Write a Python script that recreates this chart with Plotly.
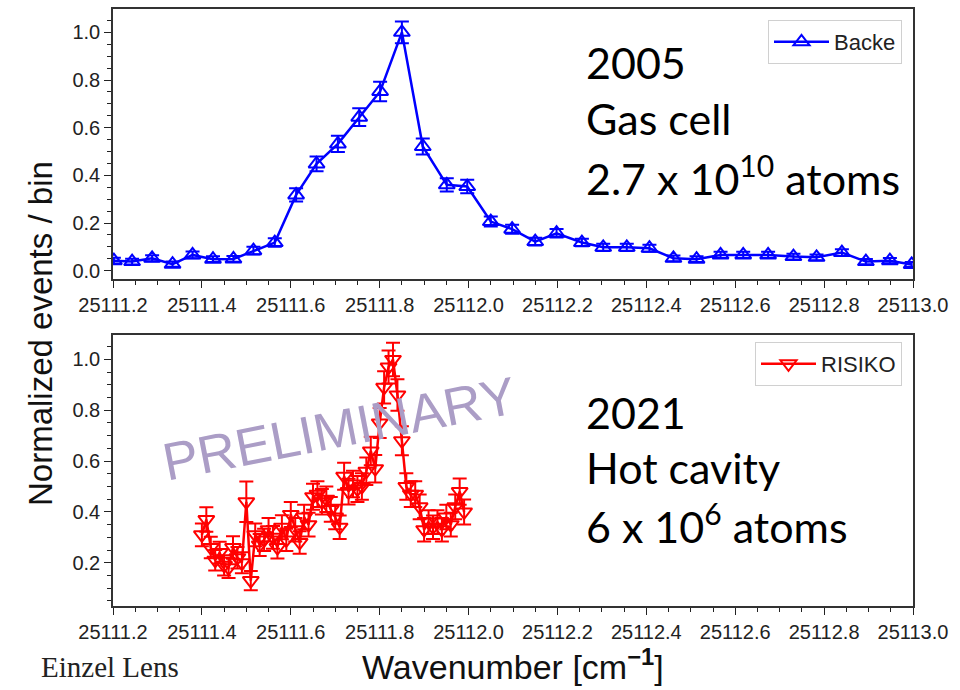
import plotly.graph_objects as go

# ---- 2005 gas cell measurement (Backe) ----
backe_x = [25111.202, 25111.243, 25111.288, 25111.334, 25111.379, 25111.425,
           25111.471, 25111.516, 25111.564, 25111.612, 25111.658, 25111.706,
           25111.754, 25111.801, 25111.850, 25111.897, 25111.951, 25111.997,
           25112.050, 25112.098, 25112.150, 25112.198, 25112.255, 25112.303,
           25112.356, 25112.407, 25112.461, 25112.513, 25112.567, 25112.618,
           25112.674, 25112.731, 25112.783, 25112.840, 25112.894, 25112.948,
           25112.997]
backe_y = [0.042, 0.038, 0.052, 0.027, 0.066, 0.048, 0.049, 0.084, 0.118,
           0.318, 0.448, 0.532, 0.644, 0.752, 1.000, 0.521, 0.360, 0.353,
           0.206, 0.174, 0.122, 0.157, 0.118, 0.098, 0.098, 0.094, 0.052,
           0.048, 0.066, 0.066, 0.066, 0.059, 0.056, 0.076, 0.038, 0.042,
           0.026]
backe_err = [0.012, 0.012, 0.013, 0.011, 0.014, 0.012, 0.012, 0.016, 0.018,
             0.028, 0.031, 0.034, 0.037, 0.041, 0.046, 0.034, 0.028, 0.028,
             0.021, 0.019, 0.016, 0.018, 0.016, 0.015, 0.015, 0.015, 0.012,
             0.012, 0.013, 0.013, 0.013, 0.012, 0.012, 0.014, 0.011, 0.011,
             0.010]

# ---- 2021 hot cavity measurement (RISIKO) ----
risiko_x = [25111.40, 25111.41, 25111.42, 25111.43, 25111.44, 25111.45,
            25111.46, 25111.47, 25111.48, 25111.49, 25111.50, 25111.51,
            25111.52, 25111.53, 25111.54, 25111.55, 25111.56, 25111.57,
            25111.58, 25111.59, 25111.60, 25111.61, 25111.62, 25111.63,
            25111.64, 25111.65, 25111.66, 25111.67, 25111.68, 25111.69,
            25111.70, 25111.71, 25111.72, 25111.73, 25111.74, 25111.75,
            25111.76, 25111.77, 25111.78, 25111.79, 25111.80, 25111.81,
            25111.82, 25111.83, 25111.84, 25111.85, 25111.86, 25111.87,
            25111.88, 25111.89, 25111.90, 25111.91, 25111.92, 25111.93,
            25111.94, 25111.95, 25111.96, 25111.97, 25111.98, 25111.99]
risiko_y = [0.31, 0.37, 0.26, 0.21, 0.24, 0.19, 0.18, 0.26, 0.22, 0.20,
            0.44, 0.13, 0.31, 0.27, 0.29, 0.33, 0.30, 0.26, 0.34, 0.29,
            0.39, 0.33, 0.28, 0.38, 0.35, 0.46, 0.47, 0.44, 0.45, 0.41,
            0.38, 0.34, 0.54, 0.48, 0.51, 0.49, 0.50, 0.56, 0.64, 0.57,
            0.75, 0.89, 0.97, 1.00, 0.86, 0.68, 0.50, 0.47, 0.47, 0.42,
            0.33, 0.36, 0.34, 0.36, 0.33, 0.38, 0.35, 0.42, 0.48, 0.40]
risiko_err = [0.045, 0.048, 0.042, 0.040, 0.043, 0.040, 0.040, 0.044, 0.042, 0.041,
              0.080, 0.038, 0.045, 0.043, 0.044, 0.046, 0.045, 0.043, 0.047, 0.044,
              0.049, 0.046, 0.044, 0.048, 0.047, 0.051, 0.051, 0.050, 0.050, 0.049,
              0.048, 0.046, 0.053, 0.051, 0.052, 0.051, 0.052, 0.054, 0.056, 0.054,
              0.059, 0.063, 0.065, 0.066, 0.062, 0.057, 0.052, 0.051, 0.051, 0.049,
              0.046, 0.047, 0.046, 0.047, 0.046, 0.048, 0.047, 0.049, 0.052, 0.049]

x_ticks = [25111.2, 25111.4, 25111.6, 25111.8, 25112.0,
           25112.2, 25112.4, 25112.6, 25112.8, 25113.0]
y_ticks = [0.0, 0.2, 0.4, 0.6, 0.8, 1.0]

SANS = "Liberation Sans, Arial, sans-serif"
TICK_FONT = dict(family=SANS, size=20, color="#222")
BIG_FONT = dict(family="Lato, Carlito, sans-serif", size=43, color="black")

fig = go.Figure()

fig.add_trace(go.Scatter(
    x=backe_x, y=backe_y, name="Backe", mode="lines+markers",
    line=dict(color="#0000ff", width=2.5),
    marker=dict(symbol="triangle-up-open", size=14, color="#0000ff",
                line=dict(width=2, color="#0000ff")),
    error_y=dict(type="data", array=backe_err, color="#0000ff",
                 thickness=2, width=7),
    xaxis="x", yaxis="y", legend="legend",
))

fig.add_trace(go.Scatter(
    x=risiko_x, y=risiko_y, name="RISIKO", mode="lines+markers",
    line=dict(color="#ff0000", width=2.5),
    marker=dict(symbol="triangle-down-open", size=14, color="#ff0000",
                line=dict(width=2, color="#ff0000")),
    error_y=dict(type="data", array=risiko_err, color="#ff0000",
                 thickness=2, width=7),
    xaxis="x2", yaxis="y2", legend="legend2",
))

x_dom = [113 / 960, 913 / 960]
top_dom = [(690 - 279) / 690, (690 - 9) / 690]
bot_dom = [(690 - 606) / 690, (690 - 335) / 690]

common_x = dict(
    range=[25111.2, 25113.0], tickvals=x_ticks, tickformat=".1f",
    ticks="outside", ticklen=7, tickwidth=1.3, tickcolor="#222",
    minor=dict(dtick=0.05, tick0=25111.2, ticks="outside", ticklen=4,
               tickwidth=1.1, tickcolor="#222"),
    showline=True, linecolor="#333", linewidth=1.5, mirror=True,
    showgrid=False, zeroline=False, tickfont=TICK_FONT, automargin=False,
)
common_y = dict(
    tickvals=y_ticks, tickformat=".1f",
    ticks="outside", ticklen=7, tickwidth=1.3, tickcolor="#222",
    minor=dict(dtick=0.05, tick0=0, ticks="outside", ticklen=4,
               tickwidth=1.1, tickcolor="#222"),
    showline=True, linecolor="#333", linewidth=1.5, mirror=True,
    showgrid=False, zeroline=False, tickfont=TICK_FONT, automargin=False,
)

legend_style = dict(
    xanchor="right", yanchor="top", bgcolor="white",
    bordercolor="#d0d0d0", borderwidth=1, itemwidth=55,
    font=dict(family=SANS, size=22, color="#222"),
)

fig.update_layout(
    width=960, height=690,
    paper_bgcolor="white", plot_bgcolor="white",
    margin=dict(l=0, r=0, t=0, b=0),
    showlegend=True,
    xaxis=dict(domain=x_dom, anchor="y", **common_x),
    yaxis=dict(domain=top_dom, anchor="x", range=[-0.035, 1.098], **common_y),
    xaxis2=dict(domain=x_dom, anchor="y2", **common_x),
    yaxis2=dict(domain=bot_dom, anchor="x2", range=[0.03, 1.096], **common_y),
    legend=dict(x=902 / 960, y=1 - 20 / 690, **legend_style),
    legend2=dict(x=902 / 960, y=1 - 342 / 690, **legend_style),
)

annotations = []


def line_note(text, x_px, y_px, font=BIG_FONT):
    annotations.append(dict(
        text=text, xref="paper", yref="paper",
        x=x_px / 960, y=1 - y_px / 690, xanchor="left", yanchor="middle",
        showarrow=False, font=font, align="left"))


line_note("2005", 584, 62)
line_note("Gas cell", 584, 118)
line_note("2.7 x 10<sup>10</sup> atoms", 584, 176)
line_note("2021", 584, 413)
line_note("Hot cavity", 584, 467)
line_note("6 x 10<sup>6</sup> atoms", 584, 523)

# watermark over the lower panel
annotations.append(dict(
    text="PRELIMINARY", xref="paper", yref="paper",
    x=339 / 960, y=1 - 428 / 690, xanchor="center", yanchor="middle",
    showarrow=False, textangle=-11,
    font=dict(family=SANS, size=53, color="#ab9dc6")))

# axis titles
annotations.append(dict(
    text="Normalized events / bin", xref="paper", yref="paper",
    x=40 / 960, y=1 - 334 / 690, xanchor="center", yanchor="middle",
    showarrow=False, textangle=-90,
    font=dict(family=SANS, size=33, color="#111")))
annotations.append(dict(
    text="Wavenumber [cm<sup><b>−1</b></sup>]", xref="paper", yref="paper",
    x=513 / 960, y=1 - 664 / 690, xanchor="center", yanchor="middle",
    showarrow=False,
    font=dict(family=SANS, size=34, color="#111")))
annotations.append(dict(
    text="Einzel Lens", xref="paper", yref="paper",
    x=39 / 960, y=1 - 667 / 690, xanchor="left", yanchor="middle",
    showarrow=False,
    font=dict(family="Liberation Serif, Times New Roman, serif", size=29, color="#222")))

fig.update_layout(annotations=annotations)

fig.write_html("out.html")
